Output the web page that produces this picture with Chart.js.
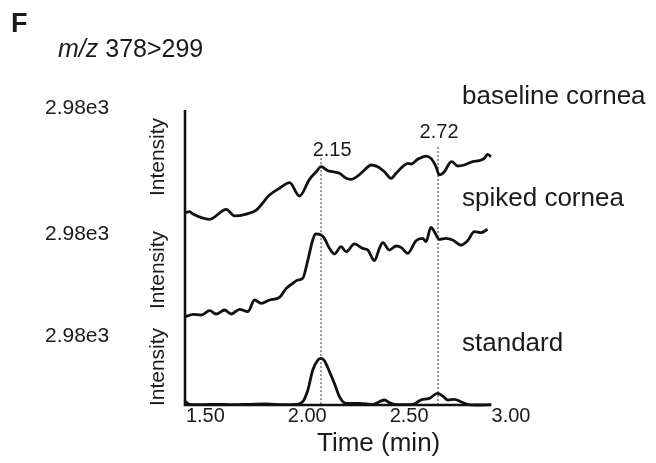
<!DOCTYPE html>
<html>
<head>
<meta charset="utf-8">
<script src="https://cdn.jsdelivr.net/npm/chart.js@4.4.1/dist/chart.umd.min.js"></script>
<style>
  body { margin: 0; background: #fff; }
  #wrap { position: relative; width: 656px; height: 463px; font-family: "Liberation Sans", Arial, sans-serif; color: #1a1a1a; }
  #wrap canvas { position: absolute; left: 0; top: 0; }
  .lbl { position: absolute; white-space: nowrap; line-height: 1; }
  .rot { position: absolute; white-space: nowrap; line-height: 1; font-size: 21px; transform: translate(-50%, -50%) rotate(-90deg); }
</style>
</head>
<body>
<div id="wrap">
  <canvas id="chart" width="656" height="463"></canvas>
  <div class="lbl" style="left:11px;top:10px;font-size:27px;font-weight:bold">F</div>
  <div class="lbl" style="left:58px;top:36px;font-size:25px"><i>m/z</i> 378&gt;299</div>

  <div class="lbl" style="left:45px;top:96px;font-size:21px">2.98e3</div>
  <div class="lbl" style="left:45px;top:222px;font-size:21px">2.98e3</div>
  <div class="lbl" style="left:45px;top:324px;font-size:21px">2.98e3</div>

  <div class="rot" style="left:156px;top:157px">Intensity</div>
  <div class="rot" style="left:156px;top:270px">Intensity</div>
  <div class="rot" style="left:156px;top:367px">Intensity</div>

  <div class="lbl" style="left:462px;top:82px;font-size:26px">baseline cornea</div>
  <div class="lbl" style="left:462px;top:184px;font-size:26px">spiked cornea</div>
  <div class="lbl" style="left:462px;top:329px;font-size:26px">standard</div>

  <div class="lbl" style="left:317px;top:429px;font-size:26px">Time (min)</div>
</div>

<script>
// retention time (min) and relative intensity (% of each panel)
const baseTime = [1.403, 1.423, 1.439, 1.521, 1.603, 1.643, 1.701, 1.750, 1.815, 1.864, 1.913, 1.962, 2.011, 2.044, 2.068,
    2.101, 2.125, 2.158, 2.191, 2.215, 2.248, 2.281, 2.313, 2.346, 2.379, 2.411, 2.436, 2.468, 2.493, 2.509,
    2.542, 2.583, 2.607, 2.632, 2.648, 2.673, 2.697, 2.710, 2.738, 2.771, 2.812, 2.844, 2.869, 2.885, 2.902];
const baseVal = [8.3, 9.2, 7.1, 2.4, 11.3, 5.4, 7.1, 10.7, 24.1, 30.1, 35.1, 23.2, 38.1, 44.9, 49.4,
    45.8, 44.9, 43.5, 39.0, 38.1, 41.1, 46.4, 50.9, 49.4, 44.9, 39.0, 43.5, 49.4, 52.4, 51.8,
    56.0, 58.9, 56.8, 49.4, 42.0, 44.9, 52.4, 53.9, 50.0, 50.9, 53.9, 54.8, 56.8, 60.4, 58.3];

const spikedTime = [1.403, 1.439, 1.480, 1.521, 1.553, 1.594, 1.627, 1.668, 1.709, 1.741, 1.774, 1.815, 1.864, 1.897, 1.929,
    1.954, 1.978, 2.003, 2.027, 2.040, 2.068, 2.084, 2.109, 2.133, 2.166, 2.191, 2.232, 2.272, 2.297, 2.330,
    2.354, 2.371, 2.403, 2.436, 2.460, 2.493, 2.534, 2.566, 2.583, 2.607, 2.624, 2.648, 2.681, 2.714, 2.754,
    2.787, 2.820, 2.852, 2.885];
const spikedVal = [3.4, 5.8, 5.1, 9.5, 6.1, 10.2, 6.1, 10.9, 8.5, 20.4, 17.0, 20.4, 23.1, 32.3, 37.4,
    40.8, 42.5, 61.2, 81.6, 87.8, 86.7, 83.3, 73.1, 67.3, 74.8, 69.7, 77.6, 73.1, 71.4, 60.5,
    73.1, 78.9, 71.4, 75.5, 74.1, 68.0, 80.9, 83.3, 79.9, 94.6, 90.1, 82.3, 83.3, 81.6, 76.5,
    80.9, 90.1, 89.1, 92.5];

const stdTime = [1.403, 1.423, 1.488, 1.553, 1.635, 1.717, 1.798, 1.880, 1.946, 1.978, 2.003, 2.027, 2.052, 2.068, 2.084,
    2.109, 2.133, 2.158, 2.182, 2.207, 2.256, 2.321, 2.354, 2.379, 2.403, 2.436, 2.518, 2.558, 2.599, 2.640,
    2.665, 2.689, 2.722, 2.754, 2.787, 2.828, 2.903];
const stdVal = [3.9, 0.8, 0.4, 0.8, 0.4, 0.8, 1.2, 0.4, 0.8, 3.9, 17.6, 41.2, 52.9, 54.9, 52.2,
    39.2, 25.5, 9.8, 2.7, 2.0, 2.0, 0.4, 3.9, 5.9, 2.7, 0.4, 0.8, 5.9, 7.8, 13.7,
    10.6, 5.9, 6.7, 3.9, 0.8, 0, 0.4];

const xTickValues = [1.5, 2.0, 2.5, 3.0];

// dotted markers: time, label, top of the line (in baseline-panel units)
const markTimes = [2.068, 2.642];
const markLabels = ['2.15', '2.72'];
const markTops = [57, 67];

const toPoints = (t, v) => t.map((x, i) => ({ x: x, y: v[i] }));

// dotted markers + axis lines
const framePlugin = {
    id: 'frame',
    beforeDatasetsDraw(chart) {
        const { ctx, scales } = chart;
        const x = scales.x, top = scales.yBase, bot = scales.yStd;
        const labelShift = [[11, -8], [1, -14]];
        ctx.save();
        ctx.strokeStyle = '#9a9a9a';
        ctx.lineWidth = 2;
        ctx.setLineDash([2, 2]);
        markTimes.forEach((t, i) => {
            const px = Math.round(x.getPixelForValue(t));
            ctx.beginPath();
            ctx.moveTo(px, top.getPixelForValue(markTops[i]));
            ctx.lineTo(px, bot.getPixelForValue(0));
            ctx.stroke();
        });
        ctx.setLineDash([]);
        ctx.fillStyle = '#1a1a1a';
        ctx.font = '20px "Liberation Sans", Arial, sans-serif';
        ctx.textAlign = 'center';
        ctx.textBaseline = 'middle';
        markTimes.forEach((t, i) => {
            const px = x.getPixelForValue(t) + labelShift[i][0];
            const py = top.getPixelForValue(markTops[i]) + labelShift[i][1];
            ctx.fillText(markLabels[i], px, py);
        });
        ctx.restore();
    },
    afterDatasetsDraw(chart) {
        const { ctx, scales } = chart;
        const x = scales.x, top = scales.yBase, bot = scales.yStd;
        const lastT = stdTime[stdTime.length - 1];
        ctx.save();
        ctx.strokeStyle = '#111';
        ctx.lineWidth = 2.6;
        ctx.beginPath();
        ctx.moveTo(x.left, top.top);
        ctx.lineTo(x.left, bot.bottom);
        ctx.lineTo(x.getPixelForValue(lastT), bot.bottom);
        ctx.stroke();
        ctx.restore();
    }
};

const traceStyle = {
    borderColor: '#111',
    borderWidth: 2.8,
    pointRadius: 0,
    cubicInterpolationMode: 'monotone',
    fill: false,
    clip: false
};

new Chart(document.getElementById('chart'), {
    type: 'line',
    data: {
        datasets: [
            { ...traceStyle, label: 'baseline cornea', data: toPoints(baseTime, baseVal), yAxisID: 'yBase' },
            { ...traceStyle, label: 'spiked cornea', data: toPoints(spikedTime, spikedVal), yAxisID: 'ySpk' },
            { ...traceStyle, label: 'standard', data: toPoints(stdTime, stdVal), yAxisID: 'yStd' }
        ]
    },
    options: {
        responsive: false,
        animation: false,
        layout: { padding: { left: 185, right: 145, top: 110, bottom: 36 } },
        plugins: { legend: { display: false }, tooltip: { enabled: false } },
        scales: {
            x: {
                type: 'linear',
                min: 1.4,
                max: 3.0,
                grid: { display: false, drawTicks: false },
                border: { display: false },
                afterBuildTicks: (s) => { s.ticks = xTickValues.map(v => ({ value: v })); },
                ticks: {
                    padding: -1,
                    color: '#1a1a1a',
                    font: { size: 20, family: '"Liberation Sans", Arial, sans-serif' },
                    callback: (v) => Number(v).toFixed(2)
                }
            },
            // the last declared axis of the stack sits on top
            yStd: { type: 'linear', display: false, min: 0, max: 100, stack: 'traces', stackWeight: 85 },
            ySpk: { type: 'linear', display: false, min: 0, max: 100, stack: 'traces', stackWeight: 98 },
            yBase: { type: 'linear', display: false, min: 0, max: 100, stack: 'traces', stackWeight: 112 }
        }
    },
    plugins: [framePlugin]
});
</script>
</body>
</html>
